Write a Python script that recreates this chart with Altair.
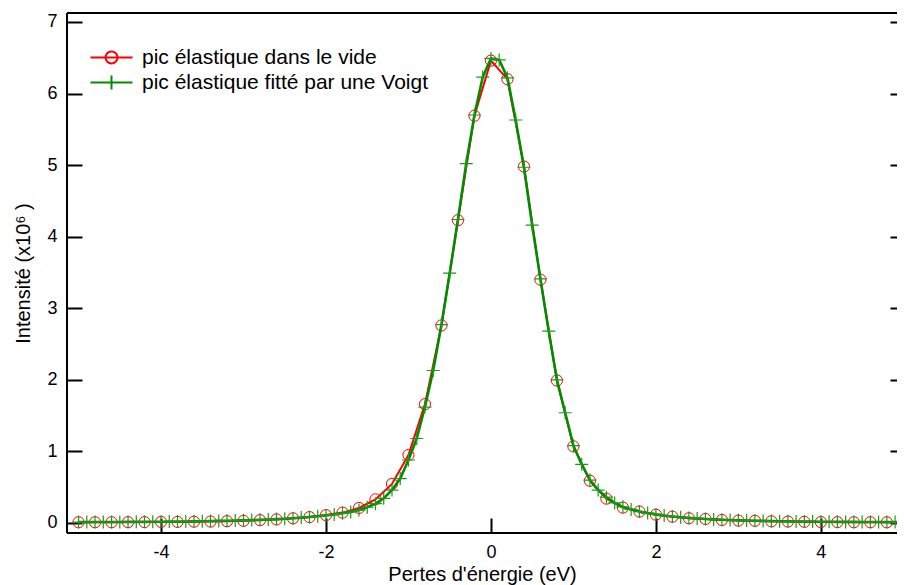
import altair as alt
import pandas as pd

# ---- data ----
series = ["pic élastique dans le vide", "pic élastique fitté par une Voigt"]

x_vide = [-5.0, -4.8, -4.6, -4.4, -4.2, -4.0, -3.8, -3.6, -3.4, -3.2,
          -3.0, -2.8, -2.6, -2.4, -2.2, -2.0, -1.8, -1.6, -1.4, -1.2,
          -1.0, -0.8, -0.6, -0.4, -0.2, 0.0, 0.2, 0.4, 0.6, 0.8,
          1.0, 1.2, 1.4, 1.6, 1.8, 2.0, 2.2, 2.4, 2.6, 2.8,
          3.0, 3.2, 3.4, 3.6, 3.8, 4.0, 4.2, 4.4, 4.6, 4.8, 5.0]
y_vide = [0.010, 0.010, 0.010, 0.012, 0.012, 0.015, 0.015, 0.018, 0.020, 0.025,
          0.030, 0.040, 0.050, 0.065, 0.082, 0.110, 0.145, 0.210, 0.330, 0.545,
          0.950, 1.660, 2.760, 4.230, 5.690, 6.460, 6.200, 4.980, 3.400, 1.990,
          1.070, 0.590, 0.340, 0.215, 0.160, 0.116, 0.088, 0.066, 0.056, 0.042,
          0.033, 0.030, 0.023, 0.020, 0.016, 0.013, 0.012, 0.010, 0.010, 0.009, 0.008]

x_voigt = [-5.0, -4.9, -4.8, -4.7, -4.6, -4.5, -4.4, -4.3, -4.2, -4.1,
           -4.0, -3.9, -3.8, -3.7, -3.6, -3.5, -3.4, -3.3, -3.2, -3.1,
           -3.0, -2.9, -2.8, -2.7, -2.6, -2.5, -2.4, -2.3, -2.2, -2.1,
           -2.0, -1.9, -1.8, -1.7, -1.6, -1.5, -1.4, -1.3, -1.2, -1.1,
           -1.0, -0.9, -0.8, -0.7, -0.6, -0.5, -0.4, -0.3, -0.2, -0.1,
           0.0, 0.1, 0.2, 0.3, 0.4, 0.5, 0.6, 0.7, 0.8, 0.9,
           1.0, 1.1, 1.2, 1.3, 1.4, 1.5, 1.6, 1.7, 1.8, 1.9,
           2.0, 2.1, 2.2, 2.3, 2.4, 2.5, 2.6, 2.7, 2.8, 2.9,
           3.0, 3.1, 3.2, 3.3, 3.4, 3.5, 3.6, 3.7, 3.8, 3.9,
           4.0, 4.1, 4.2, 4.3, 4.4, 4.5, 4.6, 4.7, 4.8, 4.9, 5.0]
y_voigt = [0.012, 0.012, 0.013, 0.013, 0.014, 0.014, 0.015, 0.016, 0.016, 0.017,
           0.018, 0.019, 0.020, 0.021, 0.023, 0.025, 0.027, 0.029, 0.031, 0.034,
           0.037, 0.040, 0.044, 0.049, 0.054, 0.060, 0.067, 0.075, 0.084, 0.094,
           0.105, 0.118, 0.135, 0.155, 0.180, 0.220, 0.270, 0.345, 0.460, 0.620,
           0.880, 1.180, 1.620, 2.130, 2.770, 3.490, 4.240, 5.020, 5.700, 6.230,
           6.490, 6.470, 6.220, 5.630, 4.970, 4.160, 3.410, 2.680, 2.000, 1.540,
           1.080, 0.820, 0.600, 0.460, 0.360, 0.280, 0.225, 0.190, 0.160, 0.138,
           0.120, 0.104, 0.091, 0.080, 0.071, 0.063, 0.056, 0.050, 0.045, 0.041,
           0.037, 0.034, 0.031, 0.029, 0.026, 0.024, 0.023, 0.021, 0.020, 0.019,
           0.018, 0.017, 0.016, 0.015, 0.015, 0.014, 0.013, 0.013, 0.012, 0.012, 0.011]

x_ticks = [-4, -2, 0, 2, 4]
y_ticks = [0, 1, 2, 3, 4, 5, 6, 7]

df_vide = pd.DataFrame({"x": x_vide, "y": y_vide, "serie": series[0]})
df_voigt = pd.DataFrame({"x": x_voigt, "y": y_voigt, "serie": series[1]})

# ---- style ----
FONT = "Liberation Sans"
RED = "#ff0000"
GREEN = "#008c00"
W, H = 830, 520

xs = alt.Scale(domain=[-5.14, 4.923], nice=False, zero=False)
ys = alt.Scale(domain=[-0.14, 7.125], nice=False, zero=False)

x_axis = alt.Axis(values=x_ticks, offset=-15, tickSize=15, domain=False, grid=False,
                  labelPadding=10, labelFontSize=18, title="Pertes d'énergie (eV)",
                  labelExpr="datum.value < 0 ? '-' + abs(datum.value) : '' + datum.value",
                  titleFontSize=20, titlePadding=3)
x_enc = alt.X("x:Q", scale=xs, axis=x_axis)

left_axis = alt.Axis(values=y_ticks, orient="left", offset=-15, tickSize=15, domain=False,
                     grid=False, labelPadding=10, labelFontSize=18,
                     title="Intensité (x10⁶ )", titleFontSize=20, titlePadding=13)
right_axis = alt.Axis(values=y_ticks, orient="right", offset=-7, tickSize=7, domain=False,
                      grid=False, labels=False, title=None)

red_line = alt.Chart(df_vide).mark_line(color=RED, strokeWidth=2).encode(
    x=x_enc, y=alt.Y("y:Q", scale=ys, axis=left_axis))
red_pts = alt.Chart(df_vide).mark_point(shape="circle", size=125, color=RED, filled=False,
                                        strokeWidth=1, opacity=1).encode(
    x=x_enc, y=alt.Y("y:Q", scale=ys, axis=None))
green_line = alt.Chart(df_voigt).mark_line(color=GREEN, strokeWidth=2.6).encode(
    x=x_enc, y=alt.Y("y:Q", scale=ys, axis=right_axis))
green_pts = alt.Chart(df_voigt).mark_point(shape="M-1,0H1M0,-1V1", size=169, color="#1a9a1a",
                                           filled=False, strokeWidth=1.2, opacity=1).encode(
    x=x_enc, y=alt.Y("y:Q", scale=ys, axis=None))

# legend-only layer (no rows drawn)
sym_red = "M-3.5,0H3.5M-1,0A1,1 0 1,0 1,0A1,1 0 1,0 -1,0"
sym_green = "M-3.5,0H3.5M0,-1.15V1.15"
leg = alt.Legend(orient="none", legendX=34, legendY=34, title=None, symbolSize=144,
                 symbolStrokeWidth=2, symbolOpacity=1, symbolFillColor="transparent",
                 labelFontSize=21, labelFont=FONT, labelColor="black", labelLimit=0,
                 labelOffset=20, rowPadding=3, padding=0)
legend_layer = alt.Chart(pd.concat([df_vide, df_voigt])).transform_filter("false").mark_point(
    filled=False, strokeWidth=2, opacity=1).encode(
    x=x_enc, y=alt.Y("y:Q", scale=ys, axis=None),
    color=alt.Color("serie:N", scale=alt.Scale(domain=series, range=[RED, GREEN]), legend=leg),
    shape=alt.Shape("serie:N", scale=alt.Scale(domain=series, range=[sym_red, sym_green]), legend=leg))

one = alt.Data(values=[{"k": 1}])
frame_top = alt.Chart(one).mark_rule(color="black", strokeWidth=2).encode(y=alt.value(0))
frame_left = alt.Chart(one).mark_rule(color="black", strokeWidth=2).encode(x=alt.value(0))
frame_bottom = alt.Chart(one).mark_rule(color="black", strokeWidth=2).encode(y=alt.value(H))

chart = alt.layer(
    red_line, red_pts, green_line, green_pts, legend_layer,
    frame_top, frame_left, frame_bottom
).resolve_axis(y="independent").properties(
    width=W, height=H,
    autosize=alt.AutoSizeParams(type="none"),
    padding={"left": 59, "top": 5, "right": 0, "bottom": 52},
).configure_view(stroke=None).configure_axis(
    labelFont=FONT, titleFont=FONT, labelColor="black", titleColor="black",
    tickColor="black", tickWidth=2, titleFontWeight="normal"
)

chart.save("out.html", embed_options={"renderer": "svg", "actions": False})
